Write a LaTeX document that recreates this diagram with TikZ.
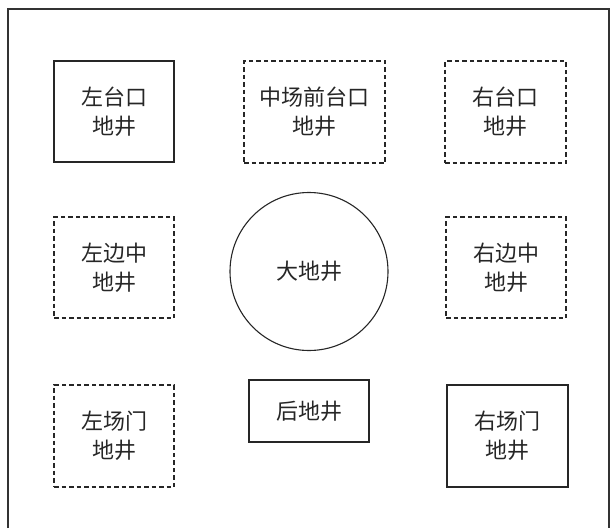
\documentclass[tikz,border=0pt]{standalone}
\usepackage{fontspec}
\newfontfamily\cjk{Noto Sans CJK SC}
\begin{document}
\begin{tikzpicture}[x=1pt,y=-1pt,
  shaft/.style={draw=black!85, line width=1.1pt, inner sep=0pt, align=center,
    text=black!85, font=\cjk\fontsize{22}{29}\selectfont},
  solidbox/.style={shaft, rectangle},
  dashbox/.style={shaft, rectangle, dash pattern=on 4.5pt off 3pt},
  frame/.style={draw=black!80, line width=1.2pt}]
\useasboundingbox (0,0) rectangle (611,528);
\draw[frame] (8,528) -- (8,9) -- (609,9) -- (609,528);
\node[solidbox, minimum width=120pt, minimum height=101pt] (ltk) at (114,111.5) {左台口\\地井};
\node[dashbox, minimum width=141pt, minimum height=102pt] (zc) at (314.5,112) {中场前台口\\地井};
\node[dashbox, minimum width=121pt, minimum height=102pt] (rtk) at (505.5,112) {右台口\\地井};
\node[dashbox, minimum width=120pt, minimum height=101pt] (lbz) at (114,267.5) {左边中\\地井};
\node[dashbox, minimum width=120pt, minimum height=101pt] (rbz) at (506,267.5) {右边中\\地井};
\node[shaft, circle, minimum size=158pt] (big) at (309,271.5) {大地井};
\node[dashbox, minimum width=120pt, minimum height=102pt] (lcm) at (114,436) {左场门\\地井};
\node[solidbox, minimum width=120pt, minimum height=62pt] (hdj) at (309,411) {后地井};
\node[solidbox, minimum width=121pt, minimum height=102pt] (rcm) at (507.5,436) {右场门\\地井};
\end{tikzpicture}
\end{document}
